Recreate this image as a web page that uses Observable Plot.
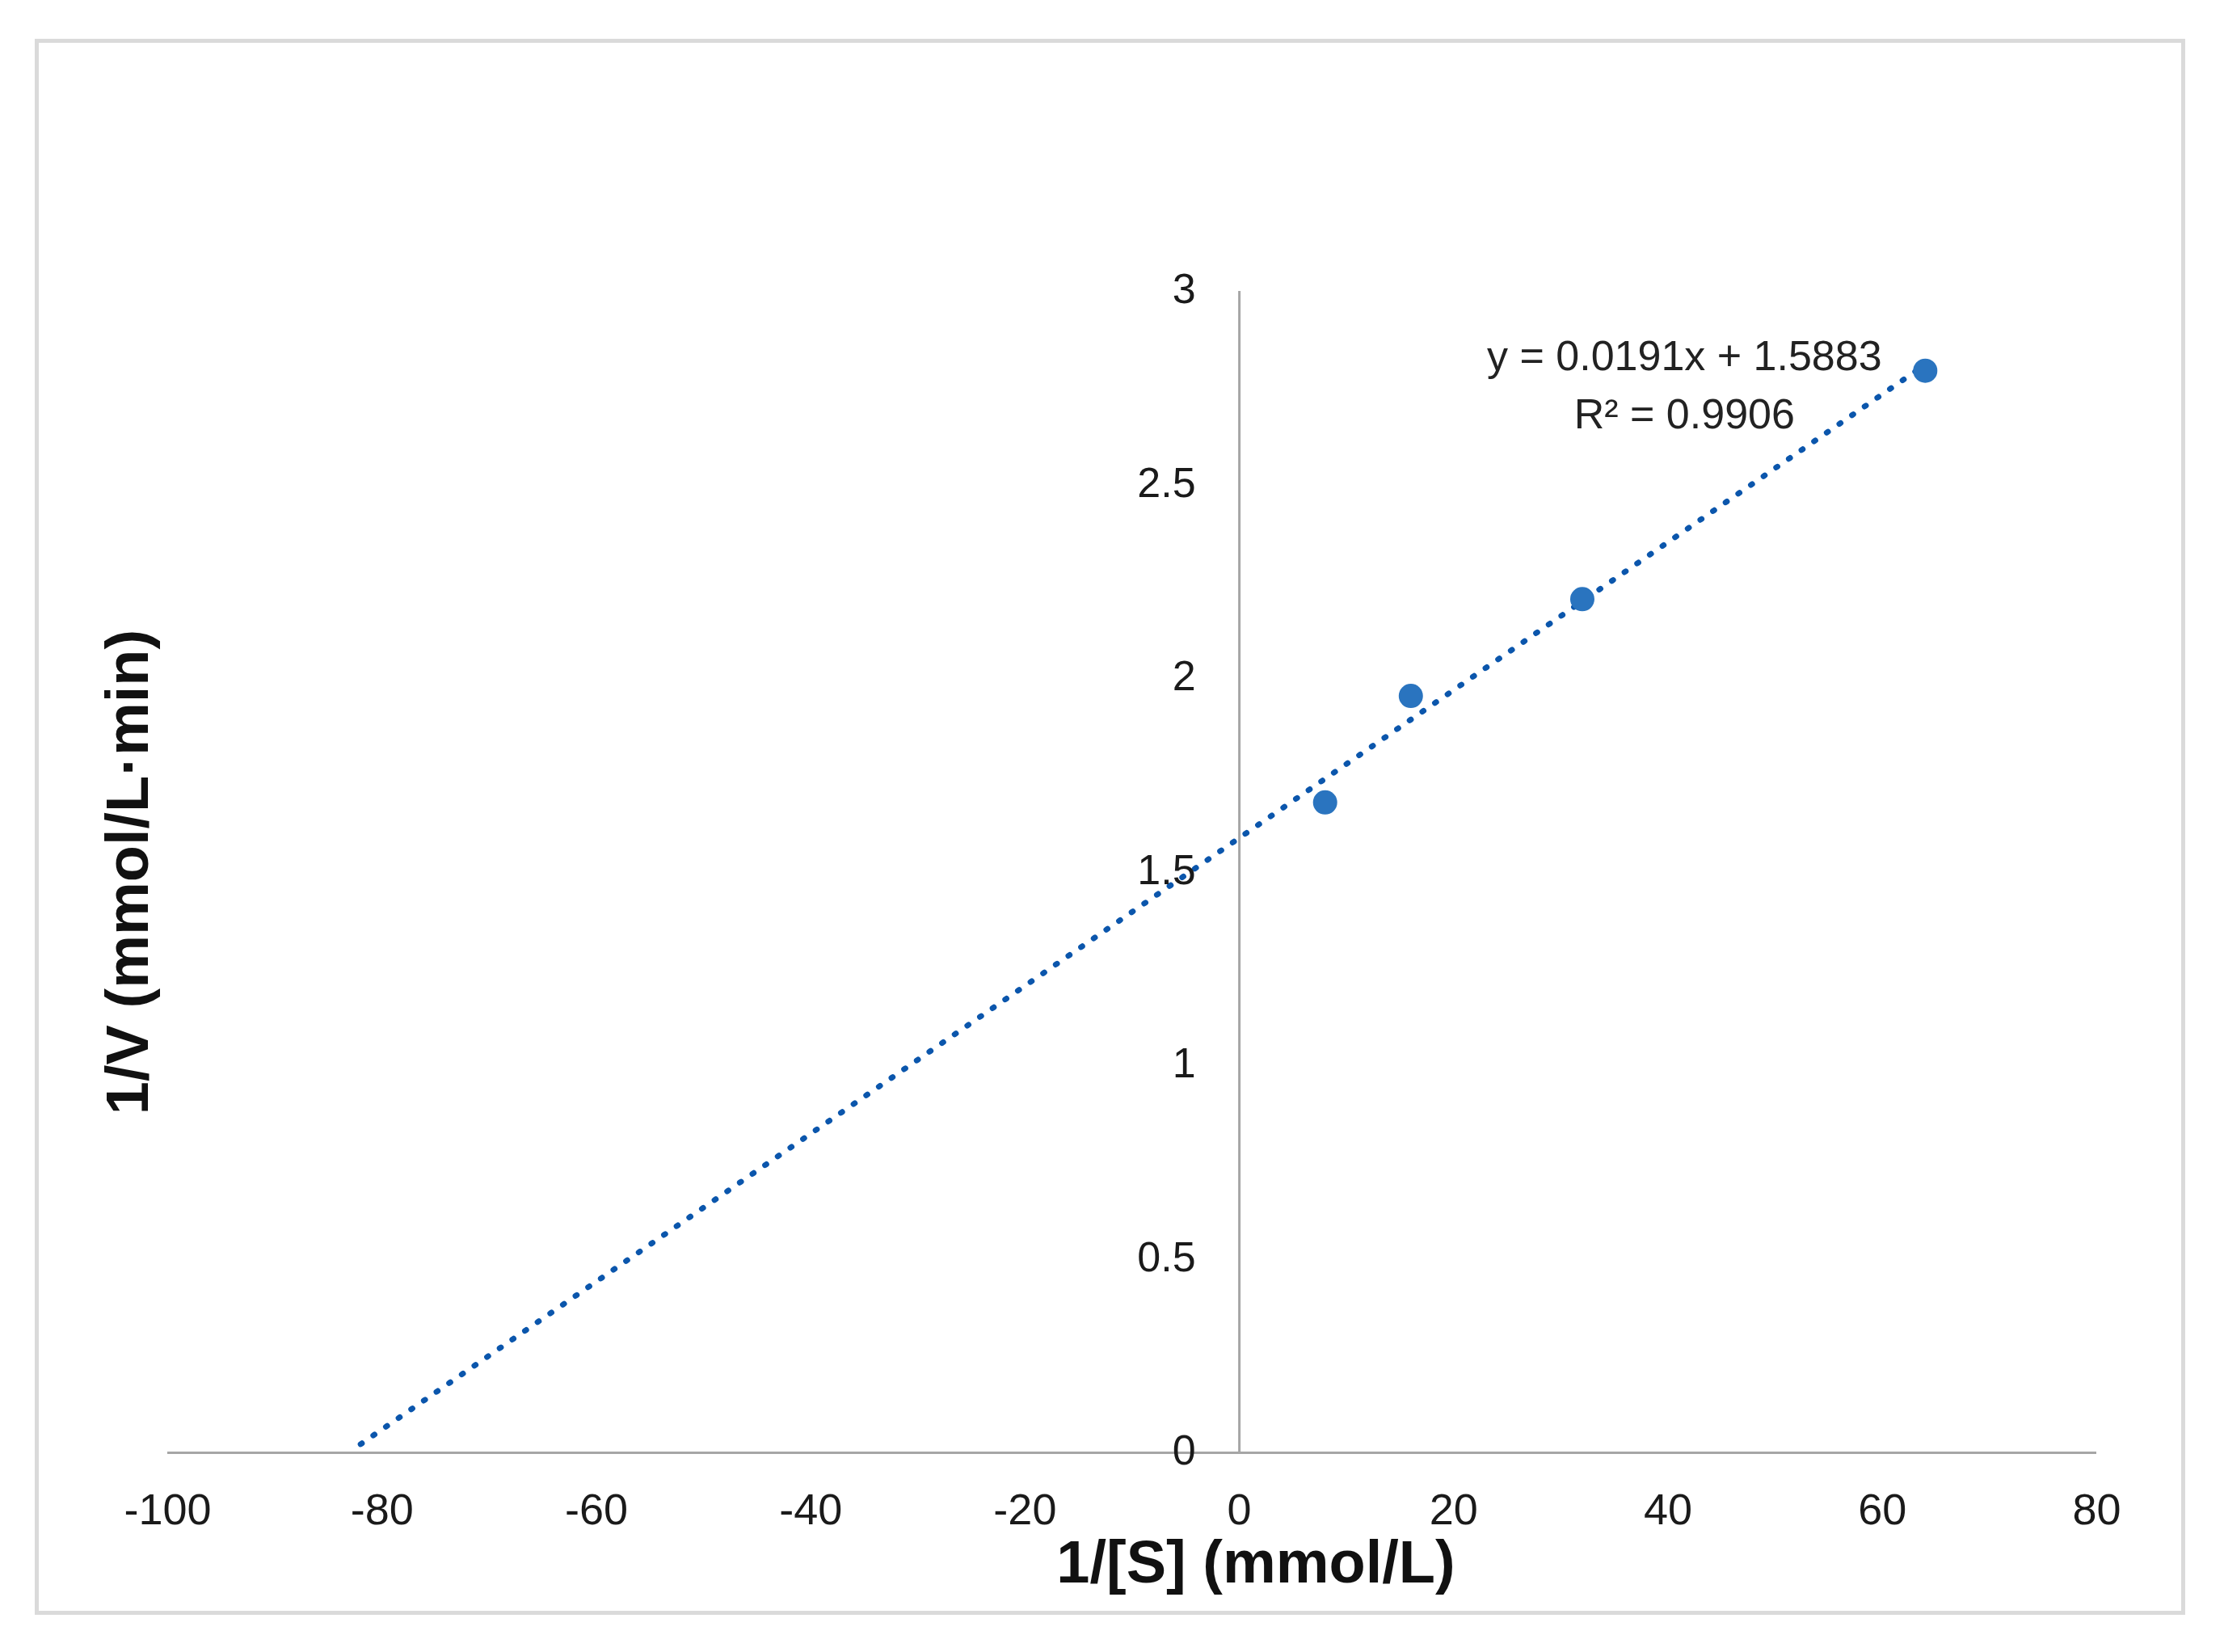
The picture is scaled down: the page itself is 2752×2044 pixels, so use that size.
<!DOCTYPE html>
<html>
<head>
<meta charset="utf-8">
<script src="https://cdn.jsdelivr.net/npm/d3@7"></script>
<script src="https://cdn.jsdelivr.net/npm/@observablehq/plot@0.6"></script>
<style>
  html, body { margin: 0; padding: 0; background: #fff; }
  #wrap { position: relative; width: 2752px; height: 2044px; overflow: hidden; }
  #border { position: absolute; left: 43px; top: 48px; width: 2661px; height: 1950px;
            box-sizing: border-box; border: 5px solid #dadada; pointer-events: none; }
  #chart { position: absolute; left: 0; top: 0; }
</style>
</head>
<body>
<div id="wrap"><div id="chart"></div><div id="border"></div></div>
<script>
// Lineweaver–Burk data
const substrateInv = [8, 16, 32, 64];             // 1/[S]
const velocityInv  = [1.68, 1.955, 2.205, 2.795]; // 1/V

// Linear trendline shown on the chart
const trendSlope = 0.0191;
const trendIntercept = 1.5883;
const rSquared = 0.9906;
const trendXStart = -82;   // forecast backward toward the x-intercept
const trendXEnd = 64;

// Axes
const xDomain = [-100, 80];
const yDomain = [0, 3];
const xTicks = [-100, -80, -60, -40, -20, 0, 20, 40, 60, 80];
const yTicks = [0, 0.5, 1, 1.5, 2, 2.5, 3];
const yTickLabels = ["0", "0.5", "1", "1.5", "2", "2.5", "3"];

const xTitle = "1/[S] (mmol/L)";
const yTitle = "1/V (mmol/L\u00b7min)";

const points = substrateInv.map((x, i) => ({x, y: velocityInv[i]}));
const trend = [trendXStart, trendXEnd].map(x => ({x, y: trendSlope * x + trendIntercept}));
const eqText = `y = ${trendSlope}x + ${trendIntercept}\nR\u00b2 = ${rSquared}`;

const font = "'Liberation Sans', Arial, sans-serif";
const axisGray = "#a6a6a6";

const chart = Plot.plot({
  width: 2752,
  height: 2044,
  marginLeft: 207,
  marginRight: 158,
  marginTop: 360,
  marginBottom: 247,
  style: {fontFamily: font, background: "transparent", color: "#1a1a1a"},
  x: {domain: xDomain, axis: null},
  y: {domain: yDomain, axis: null},
  marks: [
    Plot.ruleY([0], {stroke: axisGray, strokeWidth: 3}),
    Plot.ruleX([0], {y1: yDomain[0], y2: yDomain[1], stroke: axisGray, strokeWidth: 3}),
    Plot.line(trend, {x: "x", y: "y", stroke: "#0b56ac", strokeWidth: 7, strokeDasharray: "2,17", strokeLinecap: "round"}),
    Plot.dot(points, {x: "x", y: "y", r: 15, fill: "#2a74bf", stroke: "none"}),
    Plot.axisX({ticks: xTicks, tickSize: 0, tickPadding: 50, fontSize: 54, tickFormat: d => String(d), label: null}),
    Plot.text(yTicks, {x: 0, y: d => d, text: (d, i) => yTickLabels[i], textAnchor: "end", dx: -54, dy: -2, fontSize: 52, fill: "#1a1a1a"}),
    Plot.text([points[points.length - 1]], {x: "x", y: "y", text: () => eqText, textAnchor: "middle", lineAnchor: "middle",
      dx: -298, dy: 12, lineHeight: 1.38, fontSize: 52, fill: "#222"}),
    Plot.text([xTitle], {frameAnchor: "bottom", text: d => d, dx: 153, dy: 137, lineAnchor: "middle", textAnchor: "middle",
      fontSize: 74, fontWeight: "bold", fill: "#111"}),
    Plot.text([yTitle], {frameAnchor: "left", text: d => d, dx: -48, rotate: -90, lineAnchor: "middle", textAnchor: "middle",
      fontSize: 74, fontWeight: "bold", fill: "#111"})
  ]
});
document.getElementById("chart").appendChild(chart);
</script>
</body>
</html>
